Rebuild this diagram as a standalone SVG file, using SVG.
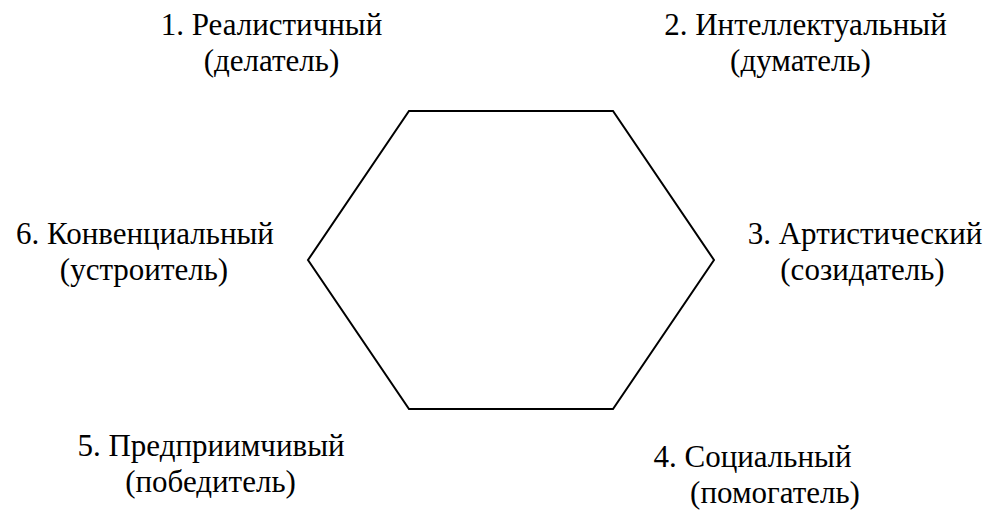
<svg xmlns="http://www.w3.org/2000/svg" width="992" height="513" viewBox="0 0 992 513">
<style>
text{font-family:'Liberation Serif','Times New Roman',serif;font-size:31px;fill:#000;text-anchor:middle}
.h{fill:#fff;stroke:#000;stroke-width:2;stroke-linejoin:miter}
</style>
<rect width="992" height="513" fill="#fff"/>
<g id="hexagon"><polygon class="h" points="409,111 613,111 714,260 613,409 409,409 308,260"/></g>
<g id="connectors"></g>
<g id="n1"><text x="271.5" y="35">1. Реалистичный</text><text x="271.5" y="71">(делатель)</text></g>
<g id="n2"><text x="805.5" y="35">2. Интеллектуальный</text><text x="800.5" y="71">(думатель)</text></g>
<g id="n3"><text x="865" y="244">3. Артистический</text><text x="862.5" y="280">(созидатель)</text></g>
<g id="n4"><text x="752.5" y="467">4. Социальный</text><text x="775" y="503">(помогатель)</text></g>
<g id="n5"><text x="211" y="456">5. Предприимчивый</text><text x="210.5" y="492">(победитель)</text></g>
<g id="n6"><text x="145" y="244">6. Конвенциальный</text><text x="144" y="280">(устроитель)</text></g>
</svg>
